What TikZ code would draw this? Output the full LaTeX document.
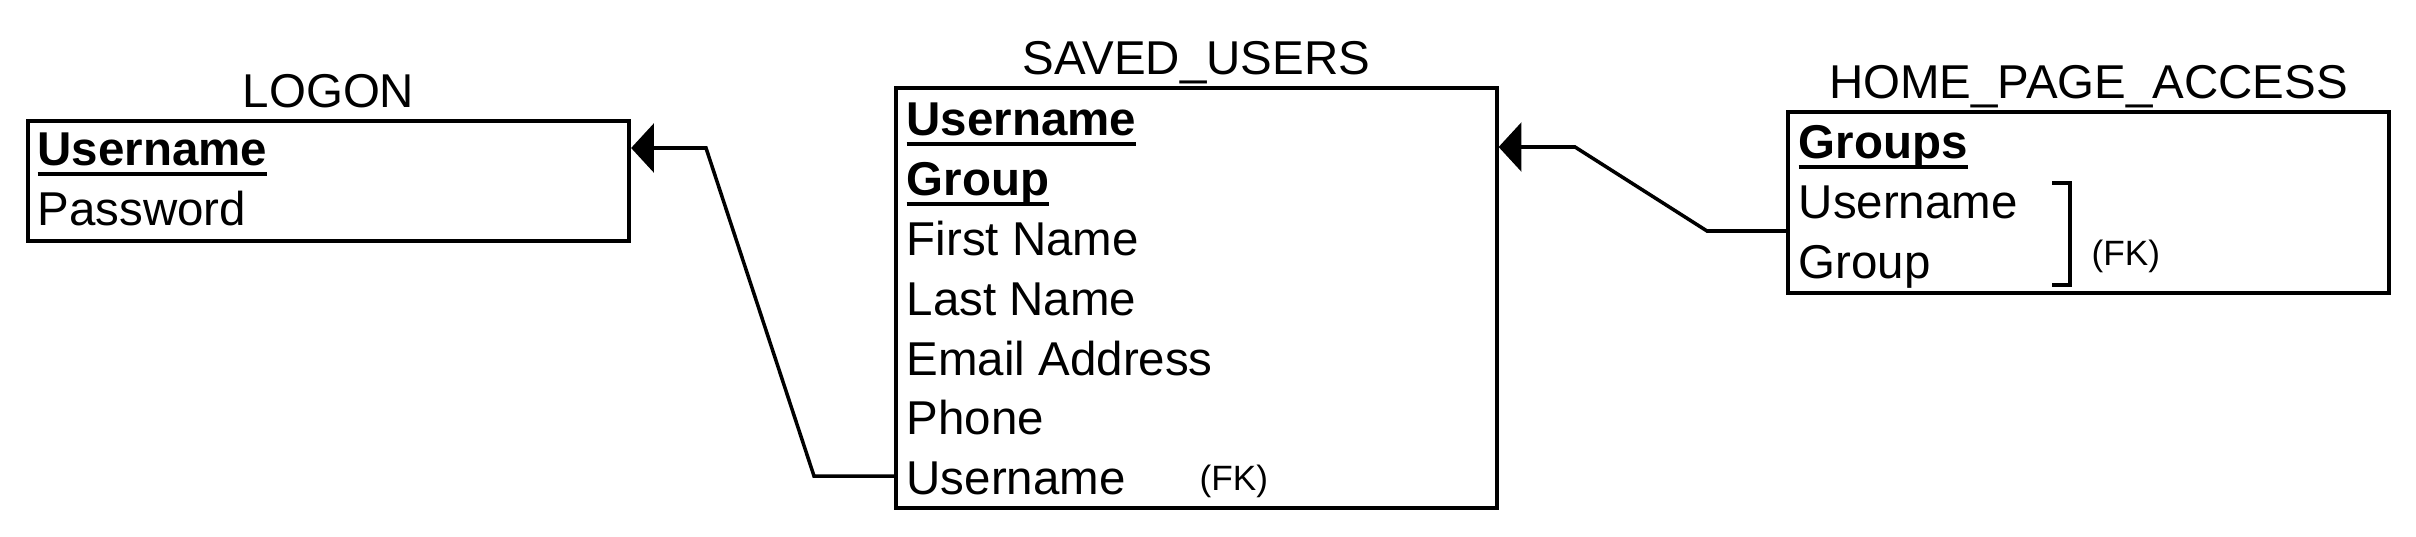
\documentclass[tikz,border=0pt]{standalone}
\usepackage{fontspec}
\setmainfont{Liberation Sans}
\usetikzlibrary{arrows.meta}
\newcommand\pkey[1]{\setbox0\hbox{\bfseries #1}\rlap{\rule[-3pt]{\wd0}{0.9pt}}\box0}

\begin{document}
\begin{tikzpicture}[x=0.01cm,y=-0.01cm,
  tbl/.style={draw,line width=1.1pt,inner sep=0pt},
  title/.style={anchor=base,inner sep=0pt,font=\fontsize{13.5}{16}\selectfont},
  field/.style={anchor=base west,inner sep=0pt,font=\fontsize{13.5}{16}\selectfont},
  fknote/.style={anchor=base west,inner sep=0pt,font=\fontsize{10}{12}\selectfont},
  link/.style={line width=1pt,-{Triangle[length=6.5pt,width=13.9pt]}}]
\useasboundingbox (0,0) rectangle (2416,536);
% tables
\node[tbl,minimum width=6.01cm,minimum height=1.2cm] (logon) at (328.5,181) {};
\node[tbl,minimum width=6cm,minimum height=4.2cm] (su) at (1196.5,298) {};
\node[tbl,minimum width=6cm,minimum height=1.81cm] (hpa) at (2088.5,202.5) {};
\node[title] (logon-t) at ([yshift=0.12cm]logon.north) {LOGON};
\node[title] (su-t) at ([yshift=0.11cm]su.north) {SAVED\_USERS};
\node[title] (hpa-t) at ([yshift=0.12cm]hpa.north) {HOME\_PAGE\_ACCESS};
% LOGON
\node[field] (logon-1) at (37,165) {\pkey{Username}};
\node[field] (logon-2) at (37,225) {Password};
% SAVED_USERS
\node[field] (su-1) at (906,135) {\pkey{Username}};
\node[field] (su-2) at (906,195) {\pkey{Group}};
\node[field] (su-3) at (906,255) {First Name};
\node[field] (su-4) at (906,315) {Last Name};
\node[field] (su-5) at (906,375) {Email Address};
\node[field] (su-6) at (906,434) {Phone};
\node[field] (su-7) at (906,494) {Username};
\node[fknote] (su-fk) at (1199,490) {(FK)};
% HOME_PAGE_ACCESS
\node[field] (hpa-1) at (1798,158) {\pkey{Groups}};
\node[field] (hpa-2) at (1798,218) {Username};
\node[field] (hpa-3) at (1798,278) {Group};
\draw[line width=1.2pt] (2052,183) -- (2070,183) -- (2070,285) -- (2052,285);
\node[fknote] (hpa-fk) at (2091,265) {(FK)};
% links
\coordinate (b1) at (814,476);
\coordinate (b2) at (706,148);
\draw[link] (su.west |- b1) -- (b1) -- (b2) -- (logon.east |- b2);
\coordinate (b3) at (1707,231);
\coordinate (b4) at (1575,147);
\draw[link] (hpa.west |- b3) -- (b3) -- (b4) -- (su.east |- b4);
\end{tikzpicture}
\end{document}
